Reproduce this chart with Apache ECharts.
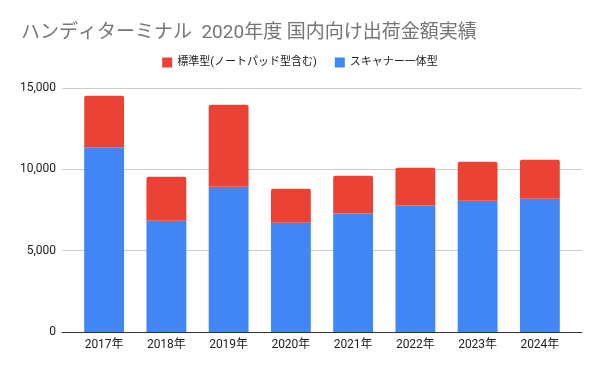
<!DOCTYPE html>
<html><head><meta charset="utf-8">
<script src="https://cdn.jsdelivr.net/npm/echarts@6/dist/echarts.min.js"></script>
<style>html,body{margin:0;padding:0;background:#fff}#c{width:600px;height:371px}</style>
</head><body><div id="c"></div>
<script>
const categories = ['2017年','2018年','2019年','2020年','2021年','2022年','2023年','2024年'];
const scannerValues = [11350, 6840, 8930, 6720, 7290, 7780, 8070, 8190];
const standardValues = [3180, 2710, 5040, 2090, 2320, 2320, 2400, 2400];
const seriesNames = ['標準型(ノートパッド型含む)', 'スキャナー一体型'];
const yTicks = [0, 5000, 10000, 15000];

const font = "Roboto, 'Noto Sans CJK JP', sans-serif";
const chart = echarts.init(document.getElementById('c'));
chart.setOption({
  animation: false,
  textStyle: {fontFamily: font},
  title: {
    text: 'ハンディターミナル  2020年度 国内向け出荷金額実績',
    left: 16, top: 19,
    textStyle: {fontFamily: font, fontSize: 19, fontWeight: 'normal', color: '#757575'}
  },
  legend: {
    data: seriesNames,
    top: 52, left: 'center',
    itemWidth: 10, itemHeight: 10, itemGap: 18,
    icon: 'rect',
    textStyle: {fontFamily: font, fontSize: 11, color: '#222'}
  },
  grid: [
    {left: 73, right: 29, top: 88, bottom: 39, containLabel: false},
    {left: 62, right: 18, top: 88, bottom: 39, containLabel: false}
  ],
  xAxis: [
    {
      type: 'category', data: categories, gridIndex: 0,
      axisTick: {show: false},
      axisLine: {show: false},
      axisLabel: {fontFamily: font, fontSize: 12, color: '#222', margin: 7}
    },
    {
      type: 'value', gridIndex: 1, min: 0, max: 1,
      axisTick: {show: false}, splitLine: {show: false},
      axisLabel: {show: false},
      axisLine: {show: true, lineStyle: {color: '#333', width: 1}}
    }
  ],
  yAxis: [
    {
      type: 'value', gridIndex: 0, min: yTicks[0], max: yTicks[yTicks.length-1], interval: 5000,
      axisLine: {show: false}, axisTick: {show: false},
      splitLine: {show: false}, axisLabel: {show: false}
    },
    {
      type: 'value', gridIndex: 1, min: yTicks[0], max: yTicks[yTicks.length-1], interval: 5000,
      axisLine: {show: false}, axisTick: {show: false},
      splitLine: {lineStyle: {color: '#cccccc'}},
      axisLabel: {fontFamily: font, fontSize: 12, color: '#222', margin: 6,
        formatter: v => v.toLocaleString('en-US')}
    }
  ],
  series: [
    {name: seriesNames[1], type: 'bar', stack: 's', data: scannerValues,
     barCategoryGap: '36%', itemStyle: {color: '#4285f4'}, z: 3},
    {name: seriesNames[0], type: 'bar', stack: 's', data: standardValues,
     barCategoryGap: '36%', itemStyle: {color: '#ea4335', borderRadius: [2,2,0,0]}, z: 3}
  ]
});
</script></body></html>
